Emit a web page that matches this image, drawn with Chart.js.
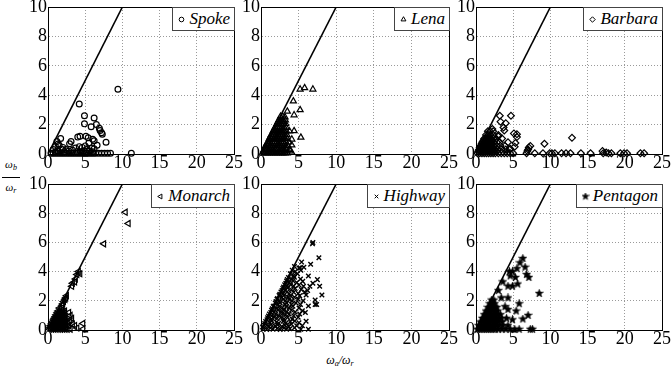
<!DOCTYPE html>
<html><head><meta charset="utf-8">
<script src="https://cdn.jsdelivr.net/npm/chart.js@4/dist/chart.umd.min.js"></script>
<style>
html,body{margin:0;padding:0;background:#fff;}
body{width:671px;height:375px;position:relative;overflow:hidden;font-family:"Liberation Serif",serif;}
canvas.plot{position:absolute;}
.leg{position:absolute;box-sizing:border-box;height:24px;border:1px solid #444;background:#fff;display:flex;align-items:center;padding:0 4px 0 4px;font-style:italic;font-size:17px;color:#000;white-space:nowrap;}
.leg canvas{margin-right:3px;}
.ylab{position:absolute;left:2px;top:159px;width:18px;text-align:center;font-style:italic;font-size:11px;line-height:11px;}
.ylab .num{border-bottom:1px solid #000;padding-bottom:4px;margin-bottom:4px;}
.xlab{position:absolute;left:310px;top:353px;width:60px;text-align:center;font-style:italic;font-size:12px;}
sub{font-size:8px;vertical-align:-2px;}
</style></head>
<body>
<div class="ylab"><div class="num">ω<sub>b</sub></div><div>ω<sub>r</sub></div></div>
<div class="xlab">ω<sub>a</sub>/ω<sub>r</sub></div>
<script>
// ---- axis ticks ----
const xTicks = [0, 5, 10, 15, 20, 25];
const yTicks = [0, 2, 4, 6, 8, 10];
// reference line omega_b = omega_a
const refLine = [[0, 0], [10, 10]];

// ---- series (x = omega_a/omega_r, y = omega_b/omega_r) ----
const spoke = [[9.4,4.4],[4.2,3.4],[4.9,2.6],[6.2,2.45],[4.9,2.05],[6.5,2.0],[5.8,1.85],[6.9,1.75],[7.0,1.6],[7.2,1.45],[7.3,1.35],[4.0,1.15],[4.3,1.2],[5.1,1.2],[5.4,1.1],[6.0,1.0],[6.2,0.9],[7.8,0.8],[3.1,0.85],[2.9,0.7],[1.7,1.05],[1.2,0.85],[1.0,0.5],[1.35,0.68],[1.5,0.6],[2.0,0.45],[2.4,0.3],[6.6,0.6],[5.5,0.75],[5.0,0.55],[4.6,0.45],[4.2,0.5],[3.7,0.4],[5.9,0.4],[6.2,0.35],[5.2,0.3],[4.8,0.2],[3.3,0.25],[2.8,0.2],[1.9,0.3],[1.3,0.2],[1.0,0.15],[0.7,0.3],[6.0,0.15],[5.6,0.2],[4.4,0.15],[3.9,0.15],[2.2,0.15],[11.2,0.05],[0.4,0.05],[0.7,0.05],[1.0,0.05],[1.3,0.05],[1.6,0.05],[1.9,0.05],[2.2,0.05],[2.5,0.05],[2.8,0.05],[3.1,0.05],[3.4,0.05],[3.7,0.05],[4.0,0.05],[4.3,0.05],[4.6,0.05],[4.9,0.05],[5.2,0.05],[5.5,0.05],[5.8,0.05],[6.1,0.05],[6.4,0.05],[6.8,0.05],[7.2,0.05],[7.6,0.05],[8.0,0.05],[8.4,0.05]];

const lena = [[5.2,4.4],[5.8,4.5],[6.9,4.4],[4.3,3.6],[5.2,3.0],[3.5,2.9],[4.4,2.65],[4.4,1.57],[5.3,1.13],[4.1,1.0],[4.1,0.6],[3.9,0.2],[4.1,0.1],[3.2,2.5],[3.0,2.2],
[0.2,0.05],[0.5,0.05],[0.8,0.05],[1.1,0.05],[1.4,0.05],[1.7,0.05],[2.0,0.05],[2.3,0.05],[2.6,0.05],[2.9,0.05],[3.2,0.05],[3.5,0.05],
[0.3,0.18],[0.65,0.18],[1.0,0.18],[1.35,0.18],[1.7,0.18],[2.05,0.18],[2.4,0.18],[2.75,0.18],[3.1,0.18],
[0.4,0.3],[0.7,0.3],[1.0,0.3],[1.3,0.3],[1.6,0.3],[1.9,0.3],[2.2,0.3],[2.5,0.3],[2.8,0.3],[3.1,0.3],[3.4,0.3],[3.8,0.3],
[0.6,0.55],[0.9,0.55],[1.2,0.55],[1.5,0.55],[1.8,0.55],[2.1,0.55],[2.4,0.55],[2.7,0.55],[3.0,0.55],[3.3,0.55],[3.6,0.55],
[0.75,0.68],[1.05,0.68],[1.35,0.68],[1.65,0.68],[1.95,0.68],[2.25,0.68],[2.55,0.68],[2.85,0.68],[3.15,0.68],
[0.9,0.8],[1.2,0.8],[1.5,0.8],[1.8,0.8],[2.1,0.8],[2.4,0.8],[2.7,0.8],[3.0,0.8],[3.3,0.8],[3.7,0.8],
[1.1,1.05],[1.4,1.05],[1.7,1.05],[2.0,1.05],[2.3,1.05],[2.6,1.05],[2.9,1.05],[3.2,1.05],[3.5,1.05],
[1.25,1.18],[1.55,1.18],[1.85,1.18],[2.15,1.18],[2.45,1.18],[2.75,1.18],[3.05,1.18],
[1.35,1.3],[1.65,1.3],[1.95,1.3],[2.25,1.3],[2.55,1.3],[2.85,1.3],[3.15,1.3],[3.45,1.3],
[1.6,1.55],[1.9,1.55],[2.2,1.55],[2.5,1.55],[2.8,1.55],[3.1,1.55],[3.4,1.55],[3.8,1.55],
[1.75,1.68],[2.05,1.68],[2.35,1.68],[2.65,1.68],[2.95,1.68],
[1.85,1.8],[2.15,1.8],[2.45,1.8],[2.75,1.8],[3.05,1.8],[3.35,1.8],
[2.1,2.05],[2.4,2.05],[2.7,2.05],[3.0,2.05],[3.3,2.05],
[2.25,2.18],[2.55,2.18],[2.85,2.18],
[2.35,2.3],[2.65,2.3],[2.95,2.3],[3.25,2.3],
[2.6,2.55],[2.9,2.55]];

const barbara = [[2.2,1.7],[3.2,2.6],[4.7,2.6],[3.3,2.2],[4.0,2.1],[3.7,1.8],[3.8,1.6],[5.1,1.4],[5.5,1.35],[5.5,1.15],[3.0,1.2],[5.3,0.75],[5.2,0.5],[4.6,0.35],[12.9,1.1],[9.2,0.7],[7.3,0.55],[7.0,0.3],[7.1,0.45],[6.9,0.2],[17.0,0.2],[17.5,0.1],
[6.8,0.05],[7.9,0.05],[9.0,0.05],[9.9,0.05],[10.2,0.05],[10.6,0.05],[11.5,0.05],[12.1,0.05],[12.7,0.05],[14.1,0.05],[15.4,0.05],[17.1,0.05],[17.8,0.05],[18.2,0.05],[19.4,0.05],[19.9,0.05],[20.3,0.05],[22.1,0.05],[22.6,0.05],
[0.2,0.05],[0.5,0.05],[0.8,0.05],[1.1,0.05],[1.4,0.05],[1.7,0.05],[2.0,0.05],[2.3,0.05],[2.6,0.05],[3.0,0.05],[3.4,0.05],[3.8,0.05],[4.2,0.05],[4.6,0.05],[5.0,0.05],
[0.3,0.18],[0.6,0.18],[0.9,0.18],[1.2,0.18],[1.5,0.18],[1.8,0.18],[2.1,0.18],[2.4,0.18],[2.8,0.18],
[0.4,0.3],[0.7,0.3],[1.0,0.3],[1.3,0.3],[1.6,0.3],[1.9,0.3],[2.2,0.3],[2.5,0.3],[2.9,0.3],[3.4,0.3],[4.0,0.3],[4.5,0.3],
[0.5,0.43],[0.8,0.43],[1.1,0.43],[1.4,0.43],[1.7,0.43],[2.0,0.43],[2.3,0.43],
[0.6,0.55],[0.9,0.55],[1.2,0.55],[1.5,0.55],[1.8,0.55],[2.1,0.55],[2.4,0.55],[2.8,0.55],[3.3,0.55],[3.9,0.55],
[0.75,0.68],[1.05,0.68],[1.35,0.68],[1.65,0.68],[1.95,0.68],[2.25,0.68],
[0.85,0.8],[1.15,0.8],[1.45,0.8],[1.75,0.8],[2.05,0.8],[2.4,0.8],[2.8,0.8],[3.2,0.8],[4.3,0.8],
[1.0,0.93],[1.3,0.93],[1.6,0.93],[1.9,0.93],[2.2,0.93],
[1.1,1.05],[1.4,1.05],[1.7,1.05],[2.0,1.05],[2.3,1.05],[2.7,1.05],[3.5,1.05],
[1.35,1.3],[1.65,1.3],[1.95,1.3],[2.3,1.3],[3.0,1.3],
[1.6,1.55],[1.9,1.55],[2.3,1.55]];

const monarch = [[10.4,8.07],[10.8,7.3],[7.5,5.9],
[4.1,4.0],[4.3,3.85],[3.9,3.8],[3.7,3.5],[3.6,3.3],[3.3,3.2],[3.2,3.0],[2.5,2.35],[2.4,2.2],[2.3,2.1],[2.1,1.95],[2.0,1.8],[1.9,1.7],
[2.8,1.2],[3.0,1.0],[2.95,0.65],[3.2,0.8],[3.6,0.3],[4.7,0.45],[4.7,0.07],[3.9,0.14],[3.3,0.4],[2.7,0.5],
[0.2,0.05],[0.5,0.05],[0.8,0.05],[1.1,0.05],[1.4,0.05],[1.7,0.05],[2.0,0.05],[2.3,0.05],[2.6,0.05],[3.0,0.05],
[0.3,0.18],[0.6,0.18],[0.9,0.18],[1.2,0.18],[1.5,0.18],[1.8,0.18],[2.1,0.18],[2.4,0.18],
[0.35,0.3],[0.65,0.3],[0.95,0.3],[1.25,0.3],[1.55,0.3],[1.85,0.3],[2.15,0.3],[2.45,0.3],[2.8,0.3],
[0.5,0.43],[0.8,0.43],[1.1,0.43],[1.4,0.43],[1.7,0.43],[2.0,0.43],[2.3,0.43],
[0.6,0.55],[0.9,0.55],[1.2,0.55],[1.5,0.55],[1.8,0.55],[2.1,0.55],[2.4,0.55],
[0.75,0.68],[1.05,0.68],[1.35,0.68],[1.65,0.68],[1.95,0.68],[2.25,0.68],
[0.85,0.8],[1.15,0.8],[1.45,0.8],[1.75,0.8],[2.05,0.8],[2.35,0.8],
[1.0,0.93],[1.3,0.93],[1.6,0.93],[1.9,0.93],[2.2,0.93],
[1.1,1.05],[1.4,1.05],[1.7,1.05],[2.0,1.05],[2.3,1.05],
[1.25,1.18],[1.55,1.18],[1.85,1.18],[2.15,1.18],
[1.35,1.3],[1.65,1.3],[1.95,1.3],[2.25,1.3],
[1.55,1.5],[1.85,1.5]];

const highway = [[6.9,6.0],[6.85,5.9],[7.7,4.95],[5.4,4.65],[6.6,4.5],[5.2,4.25],[5.7,4.3],[6.3,3.7],[7.5,3.45],[6.9,3.2],[7.8,3.0],[6.5,3.0],[8.1,2.4],[7.2,2.05],[7.2,1.75],[7.4,1.75],[6.3,1.65],[6.0,2.4],[6.2,2.7],[5.9,1.2],[6.0,0.6],[5.5,0.3],
[0.2,0.2],[0.5,0.45],[0.8,0.7],[1.0,0.95],[1.3,1.2],[1.5,1.45],[1.7,1.65],[2.0,1.95],[2.2,2.15],[2.5,2.45],[2.8,2.7],[3.0,2.95],[3.3,3.2],[3.5,3.45],
[0.3,0.1],[0.75,0.04],[1.25,0.14],[1.6,0.06],[2.15,0.11],[2.55,0.03],[3.05,0.13],[3.4,0.05],[3.85,0.09],[4.45,0.16],[5.3,0.05],[6.3,0.05],
[0.45,0.33],[0.95,0.25],[1.35,0.38],[1.85,0.27],[2.25,0.36],[2.75,0.24],[3.15,0.35],[3.65,0.26],[4.05,0.4],[4.75,0.29],
[0.62,0.58],[1.15,0.49],[1.45,0.62],[2.05,0.53],[2.35,0.47],[2.95,0.6],[3.35,0.5],[3.9,0.57],[4.5,0.62],[5.05,0.5],
[0.88,0.84],[1.35,0.74],[1.75,0.87],[2.15,0.78],[2.65,0.85],[3.05,0.75],[3.55,0.86],[4.15,0.74],[4.95,0.87],
[1.12,1.1],[1.45,0.98],[1.95,1.1],[2.35,1.0],[2.85,1.12],[3.25,1.02],[3.75,1.1],[4.35,0.98],[5.15,1.09],
[1.4,1.35],[1.75,1.24],[2.25,1.37],[2.65,1.26],[3.05,1.35],[3.45,1.25],[4.05,1.36],[4.55,1.24],[5.5,1.32],
[1.62,1.6],[2.05,1.49],[2.45,1.61],[2.85,1.52],[3.35,1.6],[3.75,1.5],[4.25,1.62],[5.05,1.5],
[1.9,1.85],[2.25,1.74],[2.55,1.86],[3.15,1.76],[3.45,1.84],[4.05,1.75],[4.65,1.85],[5.25,1.74],
[2.12,2.1],[2.45,1.99],[2.95,2.11],[3.25,2.0],[3.75,2.09],[4.15,1.98],[4.95,2.1],[5.6,2.0],
[2.4,2.36],[2.75,2.24],[3.05,2.36],[3.55,2.26],[3.95,2.35],[4.45,2.25],[5.15,2.34],
[2.65,2.6],[2.95,2.5],[3.45,2.61],[3.75,2.49],[4.35,2.58],[4.95,2.5],[5.8,2.6],
[2.9,2.85],[3.25,2.74],[3.55,2.87],[4.05,2.76],[4.55,2.84],[5.35,2.78],
[3.15,3.1],[3.45,3.0],[3.95,3.1],[4.35,3.01],[5.05,3.08],[5.65,3.0],
[3.4,3.35],[3.75,3.25],[4.25,3.37],[4.75,3.26],[5.55,3.33],
[3.65,3.6],[4.05,3.5],[4.45,3.62],[5.25,3.5],
[3.9,3.85],[4.35,3.74],[4.85,3.86],
[4.15,4.1],[4.55,4.0],[5.3,4.1],
[4.45,4.35],[5.05,4.25]];

const pentagon = [[6.3,4.9],[5.9,4.6],[6.6,4.3],[6.8,3.8],[7.1,3.6],[4.9,4.0],[4.5,4.0],[5.5,4.2],[4.6,3.7],[5.3,3.6],[3.6,3.3],[4.3,3.0],[4.9,3.0],[5.6,3.15],[8.5,2.5],[4.3,2.2],[5.8,1.8],[3.0,2.7],[4.3,1.4],[5.4,1.3],[7.0,1.0],[6.3,0.75],[4.9,0.7],[7.6,0.05],[7.3,0.05],[3.4,2.2],[3.9,1.6],[4.1,0.8],
[0.2,0.05],[0.5,0.05],[0.8,0.05],[1.1,0.05],[1.4,0.05],[1.7,0.05],[2.0,0.05],[2.3,0.05],[2.6,0.05],[3.0,0.05],[3.5,0.05],[4.0,0.05],[4.6,0.05],[5.2,0.05],[5.8,0.05],
[0.35,0.3],[0.65,0.3],[0.95,0.3],[1.25,0.3],[1.55,0.3],[1.85,0.3],[2.15,0.3],[2.45,0.3],[2.75,0.3],[3.1,0.3],[3.6,0.3],[4.3,0.3],
[0.6,0.55],[0.9,0.55],[1.2,0.55],[1.5,0.55],[1.8,0.55],[2.1,0.55],[2.4,0.55],[2.7,0.55],[3.0,0.55],[3.5,0.55],
[0.85,0.8],[1.15,0.8],[1.45,0.8],[1.75,0.8],[2.05,0.8],[2.35,0.8],[2.65,0.8],[3.0,0.8],[3.4,0.8],
[1.1,1.05],[1.4,1.05],[1.7,1.05],[2.0,1.05],[2.3,1.05],[2.6,1.05],[2.9,1.05],[3.3,1.05],
[1.35,1.3],[1.65,1.3],[1.95,1.3],[2.25,1.3],[2.55,1.3],[2.9,1.3],
[1.6,1.55],[1.9,1.55],[2.2,1.55],[2.5,1.55],[2.8,1.55],
[1.85,1.8],[2.15,1.8],[2.5,1.8],
[2.1,2.05],[2.4,2.05]];

// ---- marker styles ----
function starCanvas(size) {
  const c = document.createElement('canvas');
  c.width = size; c.height = size;
  const g = c.getContext('2d');
  const cx = size / 2, cy = size / 2, ro = size / 2 - 0.3, ri = ro * 0.42;
  g.beginPath();
  for (let i = 0; i < 10; i++) {
    const r = i % 2 ? ri : ro;
    const a = -Math.PI / 2 + i * Math.PI / 5;
    g.lineTo(cx + r * Math.cos(a), cy + r * Math.sin(a));
  }
  g.closePath(); g.fillStyle = '#000'; g.fill();
  g.strokeStyle = '#000'; g.lineWidth = 0.6; g.stroke();
  return c;
}
const starBig = starCanvas(9);

const panels = [
  { name: 'Spoke',    pts: spoke,    style: 'circle',   rot: 0,   r: 2.9, bw: 1.2, L: 48,  R: 234, T: 7,   B: 154 },
  { name: 'Lena',     pts: lena,     style: 'triangle', rot: 0,   r: 3.5, bw: 1.2, L: 261, R: 449, T: 7,   B: 154 },
  { name: 'Barbara',  pts: barbara,  style: 'rectRot',  rot: 0,   r: 3.4, bw: 1.2, L: 476, R: 662, T: 7,   B: 154 },
  { name: 'Monarch',  pts: monarch,  style: 'triangle', rot: -90, r: 3.5, bw: 1.2, L: 48,  R: 234, T: 184, B: 330 },
  { name: 'Highway',  pts: highway,  style: 'crossRot', rot: 0,   r: 3.2, bw: 1.4, L: 261, R: 449, T: 184, B: 330 },
  { name: 'Pentagon', pts: pentagon, style: starBig,    rot: 0,   r: 4,   bw: 1,   L: 476, R: 662, T: 184, B: 330 }
];

const framePlugin = {
  id: 'frame',
  afterDraw(chart) {
    const { ctx, chartArea: a } = chart;
    ctx.save();
    ctx.strokeStyle = '#000'; ctx.lineWidth = 1;
    ctx.strokeRect(a.left + 0.5, a.top + 0.5, a.right - a.left, a.bottom - a.top);
    ctx.restore();
  }
};

const tickFont = { family: '"Liberation Serif", serif', size: 18, lineHeight: 1 };
const YW = 48, PT = 10, PR = 12, XH = 24;

function build() {
panels.forEach(p => {
  const cv = document.createElement('canvas');
  cv.className = 'plot';
  const W = (p.R - p.L) + YW + PR, H = (p.B - p.T) + PT + XH;
  cv.width = W; cv.height = H;
  cv.style.left = (p.L - YW) + 'px'; cv.style.top = (p.T - PT) + 'px';
  cv.style.width = W + 'px'; cv.style.height = H + 'px';
  document.body.appendChild(cv);

  new Chart(cv.getContext('2d'), {
    type: 'scatter',
    data: {
      datasets: [
        {
          data: p.pts.map(([x, y]) => ({ x, y })),
          pointStyle: p.style,
          rotation: p.rot,
          pointRadius: p.r,
          borderColor: '#000',
          backgroundColor: 'rgba(0,0,0,0)',
          borderWidth: p.bw,
          clip: false,
          order: 2
        },
        {
          type: 'line',
          data: refLine.map(([x, y]) => ({ x, y })),
          borderColor: '#000',
          borderWidth: 1.6,
          pointRadius: 0,
          fill: false,
          order: 1
        }
      ]
    },
    options: {
      responsive: false,
      animation: false,
      devicePixelRatio: 1,
      events: [],
      layout: { padding: { top: PT, right: PR, left: 0, bottom: 0 } },
      plugins: { legend: { display: false }, tooltip: { enabled: false } },
      scales: {
        x: {
          type: 'linear', min: xTicks[0], max: xTicks[xTicks.length - 1],
          afterBuildTicks: s => { s.ticks = xTicks.map(v => ({ value: v })); },
          ticks: { font: tickFont, color: '#000', padding: 0, maxRotation: 0, autoSkip: false },
          grid: { color: '#9a9a9a', lineWidth: 1, drawTicks: false },
          border: { display: true, color: '#000', width: 1, dash: [1, 2] },
          afterFit: s => { s.height = XH; s.paddingLeft = 0; s.paddingRight = 0; }
        },
        y: {
          type: 'linear', min: yTicks[0], max: yTicks[yTicks.length - 1],
          afterBuildTicks: s => { s.ticks = yTicks.map(v => ({ value: v })); },
          ticks: { font: tickFont, color: '#000', padding: 1, autoSkip: false },
          grid: { color: '#9a9a9a', lineWidth: 1, drawTicks: false },
          border: { display: true, color: '#000', width: 1, dash: [1, 2] },
          afterFit: s => { s.width = YW; s.paddingTop = 0; s.paddingBottom = 0; }
        }
      }
    },
    plugins: [framePlugin]
  });

  // legend box (top-right inside the plot)
  const lg = document.createElement('div');
  lg.className = 'leg';
  lg.style.right = (671 - p.R - 1) + 'px';
  lg.style.top = p.T + 'px';
  const mk = document.createElement('canvas');
  mk.width = 9; mk.height = 9;
  mk.style.width = '9px'; mk.style.height = '9px';
  const g = mk.getContext('2d');
  g.strokeStyle = '#000'; g.fillStyle = 'rgba(0,0,0,0)'; g.lineWidth = 1;
  if (typeof p.style === 'string') {
    Chart.helpers.drawPoint(g, { pointStyle: p.style, radius: p.r * 0.8, rotation: p.rot, borderWidth: 1 }, 4.5, 4.5);
  } else {
    g.drawImage(starCanvas(8), 0.5, 0.5);
  }
  const tx = document.createElement('span');
  tx.textContent = p.name;
  lg.appendChild(mk); lg.appendChild(tx);
  document.body.appendChild(lg);
});
}

if (document.fonts && document.fonts.load) {
  Promise.all([
    document.fonts.load('18px "Liberation Serif"'),
    document.fonts.load('italic 17px "Liberation Serif"')
  ]).then(build, build);
} else {
  build();
}
</script>
</body></html>
